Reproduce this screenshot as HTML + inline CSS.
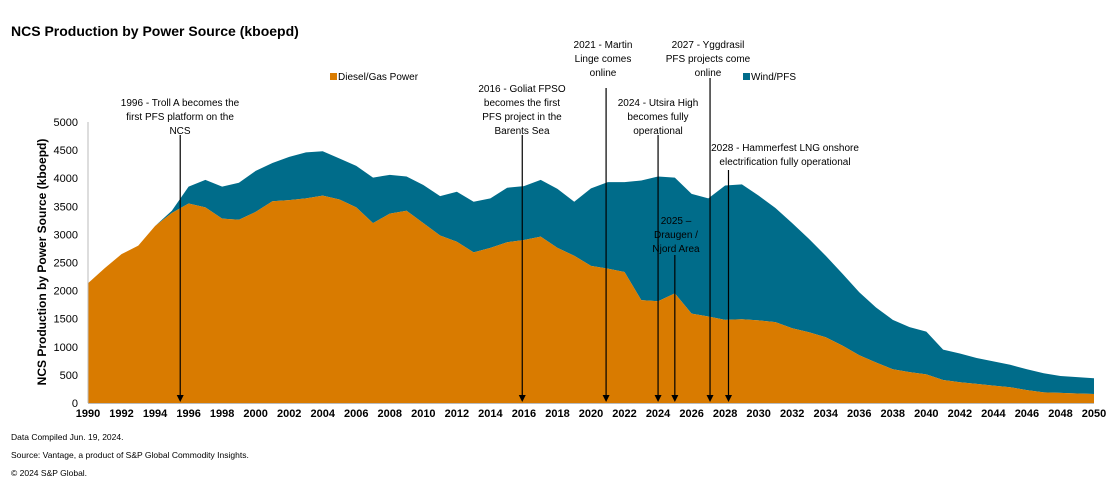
<!DOCTYPE html>
<html><head><meta charset="utf-8"><style>
body{margin:0;background:#fff;font-family:"Liberation Sans",Arial,sans-serif}
svg text{font-family:"Liberation Sans",Arial,sans-serif}
</style></head><body>
<svg id="chart" width="1114" height="487" viewBox="0 0 1114 487" xmlns="http://www.w3.org/2000/svg">
<text x="11" y="36" font-size="14" font-weight="bold" fill="#000">NCS Production by Power Source (kboepd)</text>
<g>
<rect x="330" y="73" width="7" height="7" fill="#D97B00"/>
<text x="338" y="80" font-size="10">Diesel/Gas Power</text>
<rect x="743" y="73" width="7" height="7" fill="#006C8A"/>
<text x="751" y="80" font-size="10">Wind/PFS</text>
</g>
<g id="areas"></g>
<g id="axes"></g>
<g id="annos"></g>
<text transform="translate(46,262) rotate(-90)" text-anchor="middle" font-size="12" font-weight="bold">NCS Production by Power Source (kboepd)</text>
<text x="11" y="440" font-size="8.5">Data Compiled Jun. 19, 2024.</text>
<text x="11" y="458" font-size="8.5">Source: Vantage, a product of S&amp;P Global Commodity Insights.</text>
<text x="11" y="476" font-size="8.5">© 2024 S&amp;P Global.</text>
</svg>
<script>
const years=[];for(let y=1990;y<=2050;y++)years.push(y);
const diesel=[2130,2400,2650,2800,3150,3380,3550,3480,3280,3260,3400,3590,3610,3640,3690,3620,3480,3200,3370,3420,3200,2980,2870,2680,2760,2860,2900,2960,2760,2620,2440,2390,2330,1830,1810,1950,1590,1540,1480,1490,1470,1440,1330,1260,1170,1020,850,720,600,550,510,410,370,340,310,280,230,190,180,170,160];
const wind=[0,0,0,0,0,40,300,490,570,660,730,680,770,820,790,730,740,810,690,610,680,700,890,900,880,970,960,1010,1050,960,1380,1540,1600,2130,2220,2060,2130,2100,2390,2400,2220,2030,1870,1660,1450,1280,1120,980,880,800,760,540,510,460,430,400,370,340,300,290,280];
const yTicks=[0,500,1000,1500,2000,2500,3000,3500,4000,4500,5000];
const xTicks=[];for(let y=1990;y<=2050;y+=2)xTicks.push(y);
const annoYears=[1995.5,2015.9,2020.9,2024,2025,2027.1,2028.2];
const annoTexts=[["1996 - Troll A becomes the","first PFS platform on the","NCS"],["2016 - Goliat FPSO","becomes the first","PFS project in the","Barents Sea"],["2021 - Martin","Linge comes","online"],["2024 - Utsira High","becomes fully","operational"],["2025 \u2013","Draugen /","Njord Area"],["2027 - Yggdrasil","PFS projects come","online"],["2028 - Hammerfest LNG onshore","electrification fully operational"]];
const NS="http://www.w3.org/2000/svg";
const X=v=>88+(v-1990)*(1094-88)/60, Y=v=>403-v*(281/5000);
function mk(t,a,p){const e=document.createElementNS(NS,t);for(const k in a)e.setAttribute(k,a[k]);p.appendChild(e);return e;}
const areas=document.getElementById('areas');
let dTop=years.map((y,i)=>X(y)+','+Y(diesel[i]));
let tTop=years.map((y,i)=>X(y)+','+Y(diesel[i]+wind[i]));
const wp=mk('polygon',{points:tTop.join(' ')+' '+dTop.slice().reverse().join(' '),fill:'#006C8A'},areas);


const dp=mk('polygon',{points:dTop.join(' ')+' '+X(2050)+','+Y(0)+' '+X(1990)+','+Y(0),fill:'#D97B00'},areas);


const ax=document.getElementById('axes');
const yl=mk('line',{x1:88,y1:Y(5000),x2:88,y2:Y(0),stroke:'#bbb','stroke-width':1},ax);


const xl=mk('line',{x1:88,y1:Y(0)+0.5,x2:1094,y2:Y(0)+0.5,stroke:'#bbb','stroke-width':1},ax);


yTicks.forEach(v=>{const t=mk('text',{x:78,y:Y(v)+4,'text-anchor':'end','font-size':11},ax);t.textContent=v;

});
xTicks.forEach(v=>{const t=mk('text',{x:X(v),y:417,'text-anchor':'middle','font-size':11,'font-weight':'bold'},ax);t.textContent=v;

});
const an=document.getElementById('annos');
const tx=[180,522,603,658,676,708,785],ty=[106,92,48,106,224,48,151],ay=[135,135,88,135,255,78,170];
annoYears.forEach((yr,i)=>{const g=mk('g',{},an);


annoTexts[i].forEach((s,j)=>{const t=mk('text',{x:tx[i],y:ty[i]+j*14,'text-anchor':'middle','font-size':10},g);t.textContent=s;});
const x=X(yr);mk('line',{x1:x,y1:ay[i],x2:x,y2:396,stroke:'#000','stroke-width':1.2},g);
mk('polygon',{points:(x-3.5)+',395 '+(x+3.5)+',395 '+x+',402',fill:'#000'},g);});
</script>
</body></html>
